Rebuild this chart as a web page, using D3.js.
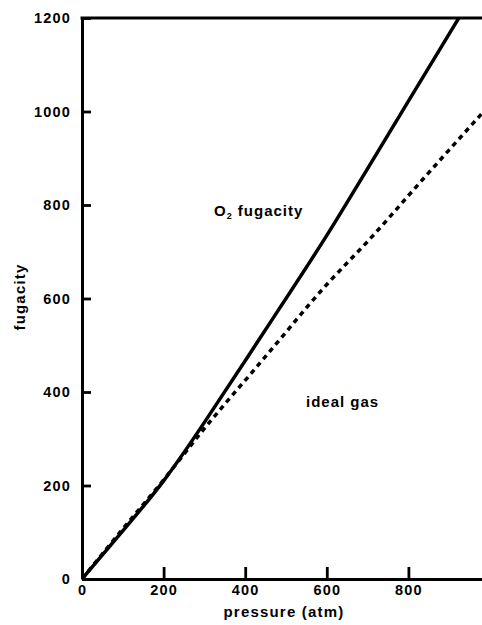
<!DOCTYPE html>
<html>
<head>
<meta charset="utf-8">
<script src="https://cdn.jsdelivr.net/npm/d3@7"></script>
<style>
  body { margin: 0; background: #fff; }
  svg text { font-family: "Liberation Sans", Arial, sans-serif; font-weight: bold; fill: #000; }
</style>
</head>
<body>
<div id="chart"></div>
<script>
// Fugacity of O2 vs ideal gas

const pressure      = [0, 100, 200, 300, 400, 500, 600, 700, 800, 900, 1000];
const o2Fugacity    = [0, 103, 210, 335, 467, 600, 735, 878, 1022, 1166, 1310];
const idealFugacity = [0, 107, 212, 322, 425, 528, 630, 722, 820, 918, 1015];

const xTicks = [0, 200, 400, 600, 800];
const yTicks = [0, 200, 400, 600, 800, 1000, 1200];

class FugacityChart {

    constructor(parentElement) {
        this.parentElement = parentElement;
        this.initVis();
    }

    initVis() {
        let vis = this;

        vis.width = 482;
        vis.height = 625;
        // plot box runs a little past the right edge, like the scan
        vis.margin = {top: 18, left: 82, bottom: 46, right: -8};

        vis.svg = d3.select('#' + vis.parentElement)
            .append('svg')
            .attr('width', vis.width)
            .attr('height', vis.height);

        vis.x = d3.scaleLinear()
            .domain([0, 1000])
            .range([vis.margin.left, vis.width - vis.margin.right]);

        vis.y = d3.scaleLinear()
            .domain([0, 1200])
            .range([vis.height - vis.margin.bottom, vis.margin.top]);

        vis.svg.append('clipPath')
            .attr('id', 'plot-clip')
            .append('rect')
            .attr('x', vis.x(0))
            .attr('y', vis.y(1200))
            .attr('width', vis.x(1000) - vis.x(0))
            .attr('height', vis.y(0) - vis.y(1200));

        vis.wrangleData();
    }

    wrangleData() {
        let vis = this;

        vis.o2Data = pressure.map((p, i) => ({p: p, f: o2Fugacity[i]}));
        vis.idealData = pressure.map((p, i) => ({p: p, f: idealFugacity[i]}));

        vis.updateVis();
    }

    updateVis() {
        let vis = this;

        let line = d3.line()
            .x(d => vis.x(d.p))
            .y(d => vis.y(d.f))
            .curve(d3.curveNatural);

        let curves = vis.svg.append('g').attr('clip-path', 'url(#plot-clip)');

        curves.append('path')
            .datum(vis.idealData)
            .attr('d', line)
            .attr('fill', 'none')
            .attr('stroke', '#000')
            .attr('stroke-width', 3.5)
            .attr('stroke-dasharray', '5,4.5');

        curves.append('path')
            .datum(vis.o2Data)
            .attr('d', line)
            .attr('fill', 'none')
            .attr('stroke', '#000')
            .attr('stroke-width', 3.5);

        // axes with inward ticks
        let yAxis = d3.axisLeft(vis.y)
            .tickValues(yTicks)
            .tickFormat(d3.format('d'))
            .tickSizeInner(-9)
            .tickSizeOuter(0)
            .tickPadding(11);

        let xAxis = d3.axisBottom(vis.x)
            .tickValues(xTicks)
            .tickFormat(d3.format('d'))
            .tickSizeInner(-12)
            .tickSizeOuter(0)
            .tickPadding(6);

        let gy = vis.svg.append('g')
            .attr('transform', `translate(${vis.x(0)},0)`)
            .call(yAxis);

        let gx = vis.svg.append('g')
            .attr('transform', `translate(0,${vis.y(0)})`)
            .call(xAxis);

        [gx, gy].forEach(g => {
            g.attr('font-family', null).attr('font-size', null);
            g.select('.domain').attr('stroke', '#000').attr('stroke-width', 3);
            g.selectAll('.tick line')
                .attr('stroke', '#000')
                .attr('stroke-width', 2.8);
            g.selectAll('.tick text')
                .style('font-size', '14.5px')
                .style('letter-spacing', '1.2px');
        });

        // top frame line
        vis.svg.append('line')
            .attr('x1', vis.x(0) - 1.5).attr('x2', vis.x(1000))
            .attr('y1', vis.y(1200)).attr('y2', vis.y(1200))
            .attr('stroke', '#000')
            .attr('stroke-width', 3);

        // axis titles
        vis.svg.append('text')
            .attr('x', 284)
            .attr('y', 617)
            .attr('text-anchor', 'middle')
            .style('font-size', '15px')
            .style('letter-spacing', '1.2px')
            .text('pressure (atm)');

        vis.svg.append('text')
            .attr('transform', 'translate(25,297) rotate(-90)')
            .attr('text-anchor', 'middle')
            .style('font-size', '15px')
            .style('letter-spacing', '1.2px')
            .text('fugacity');

        // curve labels
        let o2Label = vis.svg.append('text')
            .attr('x', 214)
            .attr('y', 216)
            .style('font-size', '15px')
            .style('letter-spacing', '1px');
        o2Label.append('tspan').text('O');
        o2Label.append('tspan')
            .attr('dy', 3)
            .style('font-size', '9px')
            .text('2');
        o2Label.append('tspan')
            .attr('dy', -3)
            .text(' fugacity');

        vis.svg.append('text')
            .attr('x', 306)
            .attr('y', 407)
            .style('font-size', '15px')
            .style('letter-spacing', '1px')
            .text('ideal gas');
    }
}

new FugacityChart('chart');
</script>
</body>
</html>
